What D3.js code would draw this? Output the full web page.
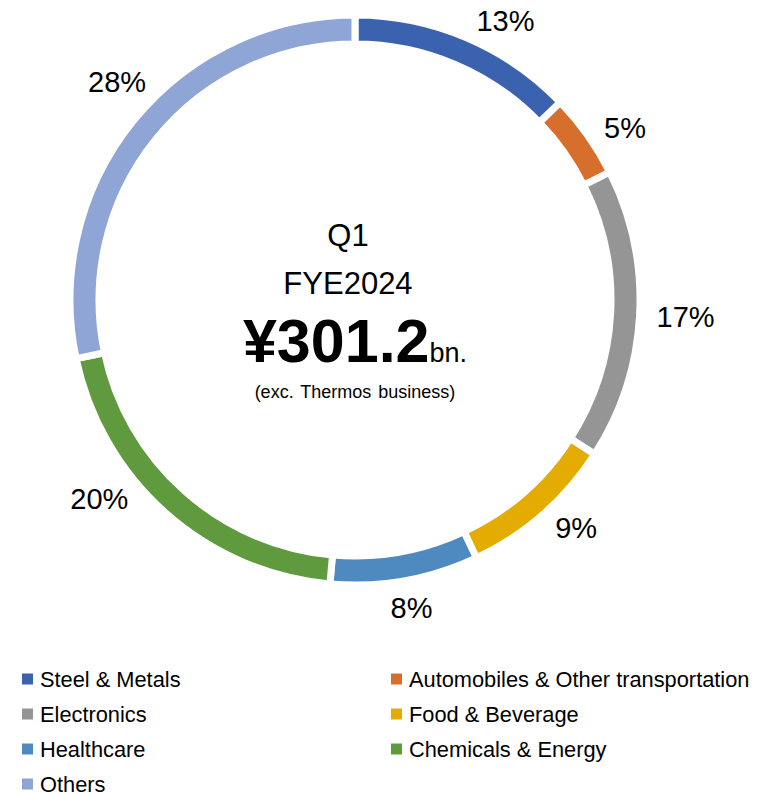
<!DOCTYPE html>
<html>
<head>
<meta charset="utf-8">
<script src="https://cdn.jsdelivr.net/npm/d3@7"></script>
<style>
  body { margin: 0; background: #fff; }
  text { font-family: "Liberation Sans", Arial, sans-serif; fill: #000; }
</style>
</head>
<body>
<script>
// segments, clockwise from 12 o'clock
var categories = ["Steel & Metals", "Automobiles & Other transportation", "Electronics",
                  "Food & Beverage", "Healthcare", "Chemicals & Energy", "Others"];
var shares = [12.8, 4.8, 16.5, 8.9, 8.4, 20.3, 28.3];
var colors = ["#3B62AE", "#D56F2B", "#959595", "#E4AC00", "#4E8AC0", "#5F9A3E", "#8FA5D5"];
var centerLines = ["Q1", "FYE2024"];
var totalValue = "¥301.2";
var totalUnit = "bn.";
var note = "(exc. Thermos business)";
// labels were dragged by hand in the original, so nudge them (degrees)
var labelShift = [4, 2, 0, -2, 0, 9, 5];

var width = 766,
    height = 796;

var cx = 355, cy = 300,
    outerR = 285, innerR = 256;

var svg = d3.select("body")
    .append("svg")
    .attr("width", width)
    .attr("height", height);

var pie = d3.pie().sort(null).value(function (d) { return d; });
var arcs = pie(shares);

var arc = d3.arc()
    .innerRadius(innerR)
    .outerRadius(outerR);

var ring = svg.append("g")
    .attr("transform", "translate(" + cx + "," + cy + ")");

ring.selectAll(".slice")
    .data(arcs)
    .enter()
    .append("path")
    .attr("class", "slice")
    .attr("d", arc)
    .attr("fill", function (d, i) { return colors[i]; })
    .attr("stroke", "#fff")
    .attr("stroke-width", 7);

//percent labels outside the ring
var labelR = 302;
ring.selectAll(".pct")
    .data(arcs)
    .enter()
    .append("text")
    .attr("class", "pct")
    .attr("font-size", 29)
    .attr("text-anchor", "middle")
    .attr("dominant-baseline", "central")
    .text(function (d) { return Math.round(d.data) + "%"; })
    .each(function (d, i) {
        var a = (d.startAngle + d.endAngle) / 2 + labelShift[i] * Math.PI / 180,
            w = this.getComputedTextLength(),
            h = 22;
        var x = Math.sin(a) * labelR + Math.sin(a) * w / 2,
            y = -Math.cos(a) * labelR - Math.cos(a) * h / 2;
        d3.select(this).attr("x", x).attr("y", y);
    });

//center text
var mid = svg.append("g");
mid.selectAll(".line")
    .data(centerLines)
    .enter()
    .append("text")
    .attr("class", "line")
    .attr("x", cx - 7)
    .attr("y", function (d, i) { return 246 + i * 48; })
    .attr("text-anchor", "middle")
    .attr("font-size", 31)
    .text(function (d) { return d; });

var big = mid.append("text")
    .attr("x", cx)
    .attr("y", 362)
    .attr("text-anchor", "middle");
big.append("tspan")
    .attr("font-size", 61)
    .attr("font-weight", "bold")
    .text(totalValue);
big.append("tspan")
    .attr("font-size", 27)
    .text(totalUnit);

mid.append("text")
    .attr("x", cx)
    .attr("y", 398)
    .attr("text-anchor", "middle")
    .attr("font-size", 18)
    .attr("word-spacing", 2)
    .text(note);

//legend, two columns
var legend = svg.append("g");
var item = legend.selectAll(".item")
    .data(categories)
    .enter()
    .append("g")
    .attr("class", "item")
    .attr("transform", function (d, i) {
        return "translate(" + (i % 2 === 0 ? 22 : 391) + "," + (679 + Math.floor(i / 2) * 35) + ")";
    });

item.append("rect")
    .attr("y", -5.5)
    .attr("width", 11)
    .attr("height", 11)
    .attr("fill", function (d, i) { return colors[i]; });

item.append("text")
    .attr("x", 18)
    .attr("y", 8)
    .attr("font-size", 21.8)
    .text(function (d) { return d; });
</script>
</body>
</html>
